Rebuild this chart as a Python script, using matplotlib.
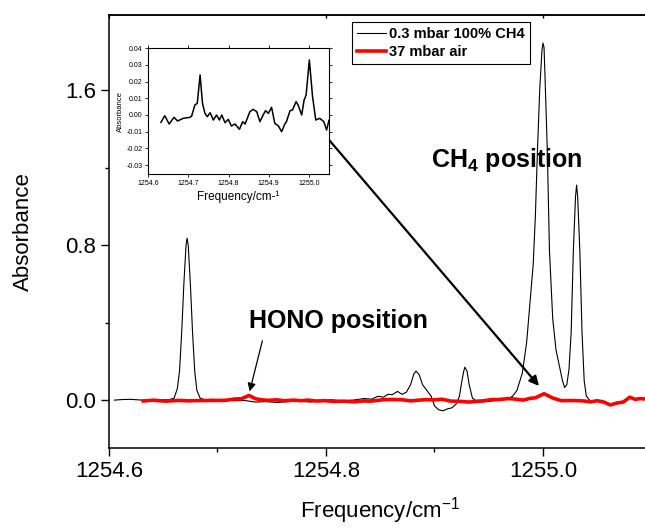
import matplotlib.pyplot as plt
from matplotlib.ticker import MultipleLocator, FormatStrFormatter, NullFormatter

plt.rcParams['font.family'] = ['Liberation Sans', 'DejaVu Sans']
plt.rcParams['mathtext.fontset'] = 'custom'
plt.rcParams['mathtext.rm'] = 'Liberation Sans'
plt.rcParams['mathtext.bf'] = 'Liberation Sans:bold'

# 0.3 mbar 100% CH4 spectrum (frequency in cm-1, absorbance)
ch4_freq = [1254.605, 1254.612, 1254.620, 1254.628, 1254.635, 1254.642, 1254.650, 1254.655,
            1254.660, 1254.663, 1254.665, 1254.667, 1254.669, 1254.671, 1254.672, 1254.673,
            1254.675, 1254.677, 1254.679, 1254.681, 1254.684, 1254.688, 1254.695, 1254.705,
            1254.715, 1254.725, 1254.735, 1254.745, 1254.755, 1254.765, 1254.775, 1254.785,
            1254.795, 1254.805, 1254.815, 1254.825, 1254.835, 1254.842, 1254.848, 1254.853,
            1254.857, 1254.861, 1254.866, 1254.870, 1254.874, 1254.878, 1254.881, 1254.883,
            1254.886, 1254.889, 1254.893, 1254.897, 1254.900, 1254.904, 1254.908, 1254.912,
            1254.916, 1254.920, 1254.923, 1254.925, 1254.927, 1254.928, 1254.930, 1254.932,
            1254.935, 1254.940, 1254.948, 1254.955, 1254.962, 1254.968, 1254.972, 1254.976,
            1254.981, 1254.985, 1254.988, 1254.991, 1254.993, 1254.995, 1254.997, 1254.999,
            1255.000, 1255.001, 1255.002, 1255.004, 1255.006, 1255.009, 1255.012, 1255.015,
            1255.018, 1255.020, 1255.022, 1255.024, 1255.026, 1255.028, 1255.030, 1255.031,
            1255.032, 1255.034, 1255.036, 1255.038, 1255.040, 1255.043]
ch4_abs = [0.000, 0.003, 0.004, 0.001, -0.002, 0.000, 0.002, 0.002,
           0.010, 0.060, 0.150, 0.350, 0.600, 0.800, 0.836, 0.800,
           0.600, 0.350, 0.150, 0.050, 0.010, 0.002, 0.004, 0.001,
           -0.003, -0.002, -0.010, -0.008, -0.012, -0.008, -0.005, -0.010,
           -0.003, 0.002, -0.004, 0.000, 0.008, 0.005, 0.020, 0.015,
           0.030, 0.028, 0.045, 0.030, 0.040, 0.080, 0.135, 0.150,
           0.130, 0.080, 0.050, 0.020, -0.030, -0.050, -0.055, -0.045,
           -0.040, -0.020, 0.020, 0.090, 0.150, 0.170, 0.150, 0.080,
           0.010, -0.010, -0.008, -0.003, 0.000, 0.008, 0.020, 0.050,
           0.140, 0.300, 0.500, 0.700, 0.950, 1.300, 1.600, 1.800,
           1.843, 1.820, 1.650, 1.290, 0.770, 0.420, 0.260, 0.180,
           0.100, 0.065, 0.080, 0.160, 0.350, 0.770, 1.050, 1.110,
           1.050, 0.770, 0.350, 0.100, 0.020, 0.000]

# 37 mbar air spectrum
air_freq = [1254.6315, 1254.641, 1254.652, 1254.664, 1254.673, 1254.687, 1254.704, 1254.708,
            1254.716, 1254.722, 1254.729, 1254.735, 1254.741, 1254.747, 1254.754, 1254.762,
            1254.770, 1254.777, 1254.783, 1254.791, 1254.799, 1254.807, 1254.816, 1254.827,
            1254.835, 1254.841, 1254.853, 1254.861, 1254.870, 1254.878, 1254.886, 1254.892,
            1254.899, 1254.907, 1254.915, 1254.924, 1254.932, 1254.940, 1254.944, 1254.953,
            1254.959, 1254.968, 1254.973, 1254.982, 1254.988, 1254.993, 1255.001, 1255.009,
            1255.017, 1255.027, 1255.037, 1255.044, 1255.050, 1255.056, 1255.062, 1255.068,
            1255.074, 1255.080, 1255.085, 1255.090, 1255.096]
air_abs = [-0.0044, -0.0004, -0.0054, -0.0014, -0.0036, -0.0020, -0.0014, -0.0006,
           0.0060, 0.0070, 0.0240, 0.0070, 0.0010, -0.0010, 0.0014, -0.0030,
           0.0000, -0.0030, 0.0000, -0.0046, -0.0026, -0.0066, -0.0054, -0.0086,
           -0.0040, -0.0054, 0.0020, 0.0034, 0.0020, -0.0040, 0.0000, 0.0026,
           0.0010, 0.0046, -0.0050, -0.0066, -0.0100, -0.0054, -0.0040, 0.0026,
           0.0030, 0.0080, 0.0060, 0.0000, 0.0090, 0.0120, 0.0330, 0.0110,
           -0.0030, -0.0020, -0.0040, -0.0090, -0.0030, -0.0100, -0.0250, -0.0150,
           -0.0100, 0.0150, 0.0040, 0.0080, 0.0050]

fig = plt.figure(figsize=(6.45, 5.31), dpi=100)

# main panel, right side runs past the figure edge
ax = fig.add_axes([0.169, 0.156, 0.841, 0.8154])
ax.plot(ch4_freq, ch4_abs, color='black', lw=0.8, label='0.3 mbar 100% CH4')
ax.plot(air_freq, air_abs, color='red', lw=2.6, label='37 mbar air')
ax.set_xlim(1254.6, 1255.1)
ax.set_ylim(-0.248, 1.987)
ax.xaxis.set_major_locator(MultipleLocator(0.2))
ax.xaxis.set_minor_locator(MultipleLocator(0.1))
ax.yaxis.set_major_locator(MultipleLocator(0.8))
ax.yaxis.set_minor_locator(MultipleLocator(0.4))
ax.xaxis.set_major_formatter(FormatStrFormatter('%.1f'))
ax.yaxis.set_major_formatter(FormatStrFormatter('%.1f'))
ax.tick_params(which='major', length=5.5, width=1, labelsize=16, pad=4)
ax.tick_params(which='minor', length=3, width=1)
for s in ax.spines.values():
    s.set_linewidth(1.1)
ax.set_xlabel('Frequency/cm$^{-1}$', fontsize=16, labelpad=9)
ax.set_ylabel('Absorbance', fontsize=16, labelpad=22)

# small inward ticks on the top axis
top = ax.secondary_xaxis('top')
top.xaxis.set_major_locator(MultipleLocator(0.2))
top.xaxis.set_major_formatter(NullFormatter())
top.tick_params(direction='in', length=2.5, width=1)
top.spines['top'].set_linewidth(1.1)

# annotations
ax.text(1254.8965, 1.24, r'CH$_\mathbf{4}$ position', fontsize=18, fontweight='bold',
        ha='left', va='center')
ax.text(1254.7295, 0.41, 'HONO position', fontsize=18, fontweight='bold',
        ha='left', va='center')
ax.annotate('', xy=(1254.998, 0.062), xytext=(1254.782, 1.48),
            arrowprops=dict(arrowstyle='-|>', color='black', lw=1.6, mutation_scale=14))
ax.annotate('', xy=(1254.729, 0.031), xytext=(1254.742, 0.32),
            arrowprops=dict(arrowstyle='-|>', color='black', lw=0.9, mutation_scale=12))

leg = ax.legend(loc='upper left', bbox_to_anchor=(352 / 645, 1 - 22 / 531),
                bbox_transform=fig.transFigure, prop={'weight': 'bold', 'size': 10.5},
                frameon=True, fancybox=False, edgecolor='black', framealpha=1,
                handlelength=2.0, handletextpad=0.2, borderpad=0.35, labelspacing=0.25,
                borderaxespad=0)
leg.get_frame().set_linewidth(0.8)

# inset: air spectrum zoomed
ins = fig.add_axes([0.2299, 0.6723, 0.2802, 0.2367])
ins.plot(air_freq, air_abs, color='black', lw=1.1)
ins.set_xlim(1254.6, 1255.05)
ins.set_ylim(-0.0354, 0.04)
ins.xaxis.set_major_locator(MultipleLocator(0.1))
ins.yaxis.set_major_locator(MultipleLocator(0.01))
ins.xaxis.set_major_formatter(FormatStrFormatter('%.1f'))
ins.yaxis.set_major_formatter(FormatStrFormatter('%.2f'))
ins.tick_params(which='major', length=2.5, width=0.6, labelsize=5, pad=1.5)
ins.tick_params(axis='both', which='both', top=True, right=True)
for s in ins.spines.values():
    s.set_linewidth(0.8)
ins.set_xlabel('Frequency/cm-\u00b9', fontsize=8.5, labelpad=3)
ins.set_ylabel('Absorbance', fontsize=5.5, labelpad=2)

fig.savefig('out.png', dpi=100)
